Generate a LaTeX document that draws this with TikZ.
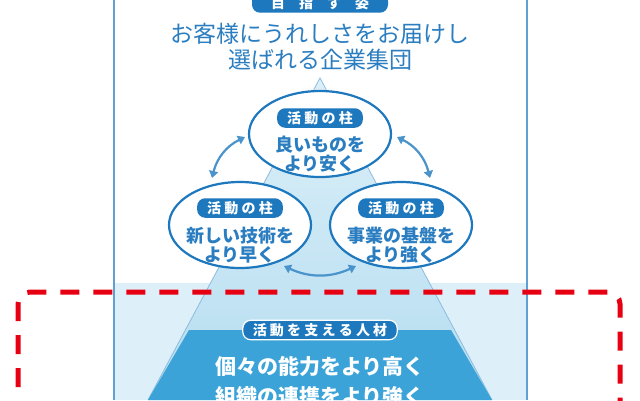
\documentclass[tikz,border=0pt]{standalone}
\usepackage{fontspec}
\newfontfamily\jp{Noto Sans CJK JP}
\usetikzlibrary{arrows.meta}
\definecolor{deepblue}{HTML}{1D78BE}
\definecolor{textblue}{HTML}{2A7DC0}
\definecolor{paleblue}{HTML}{DDF0F9}
\definecolor{midblue}{HTML}{B5DDF0}
\definecolor{strongblue}{HTML}{3BA3D8}
\definecolor{alarmred}{HTML}{E60012}
\tikzset{
  pill/.style={fill=deepblue, text=white, rounded corners=8pt, font=\jp\bfseries\fontsize{14}{14}\selectfont, inner xsep=10pt, inner ysep=3pt},
  pillar/.style={ellipse, draw=deepblue, line width=2.2pt, fill=white, minimum width=142pt, minimum height=86pt},
  pillartext/.style={text=textblue, font=\jp\bfseries\fontsize{18}{19}\selectfont, align=center},
  swap/.style={{Triangle[length=7pt,width=9pt]}-{Triangle[length=7pt,width=9pt]}, draw=deepblue!80, line width=2.2pt}
}
\usetikzlibrary{shapes.geometric}
\begin{document}
\begin{tikzpicture}[x=1pt,y=-1pt]
\useasboundingbox (0,0) rectangle (640,400);
\fill[white] (0,0) rectangle (640,400);
% frame and lower band
\fill[paleblue] (114,283) rectangle (527,400);
\draw[deepblue!70, line width=1.2pt] (114,0) -- (114,400) (527,0) -- (527,400);
% pyramid
\shade[top color=paleblue, bottom color=midblue] (320,78) -- (148,400) -- (492,400) -- cycle;
\draw[deepblue!50, line width=0.8pt] (148,400) -- (320,78) -- (492,400);
\fill[strongblue] (189,330) -- (451,330) -- (492,400) -- (148,400) -- cycle;
% goal
\node[pill, minimum width=136pt] (goal) at (320,3) {目　指　す　姿};
\node[text=textblue, font=\jp\fontsize{23}{26}\selectfont, align=center] (vision) at (320,47)
  {お客様にうれしさをお届けし\\選ばれる企業集団};
% pillars
\node[pillar] (cheap) at (320,134) {};
\node[pillar] (fast) at (240,225) {};
\node[pillar] (base) at (401,225) {};
\node[pill] at (320,118) {活 動 の 柱};
\node[pill] at (240,208) {活 動 の 柱};
\node[pill] at (401,208) {活 動 の 柱};
\node[pillartext] at (320,154) {良いものを\\より安く};
\node[pillartext] at (240,245) {新しい技術を\\より早く};
\node[pillartext] at (401,245) {事業の基盤を\\より強く};
\draw[swap] (212,178) to[bend left=25] (245,137);
\draw[swap] (397,137) to[bend left=25] (430,178);
\draw[swap] (284,266) to[bend right=25] (356,266);
% people
\node[pill, draw=white, line width=1.2pt, inner xsep=10pt] (people) at (320,330) {活 動 を 支 え る 人 材};
\node[text=white, font=\jp\bfseries\fontsize{21}{30}\selectfont, align=center] at (320,382)
  {個々の能力をより高く\\組織の連携をより強く};
% red dashed boundary
\draw[alarmred, line width=5pt, dash pattern=on 19pt off 14pt, rounded corners=12pt]
  (18,420) -- (18,292) -- (620,292) -- (620,420);
\end{tikzpicture}
\end{document}
